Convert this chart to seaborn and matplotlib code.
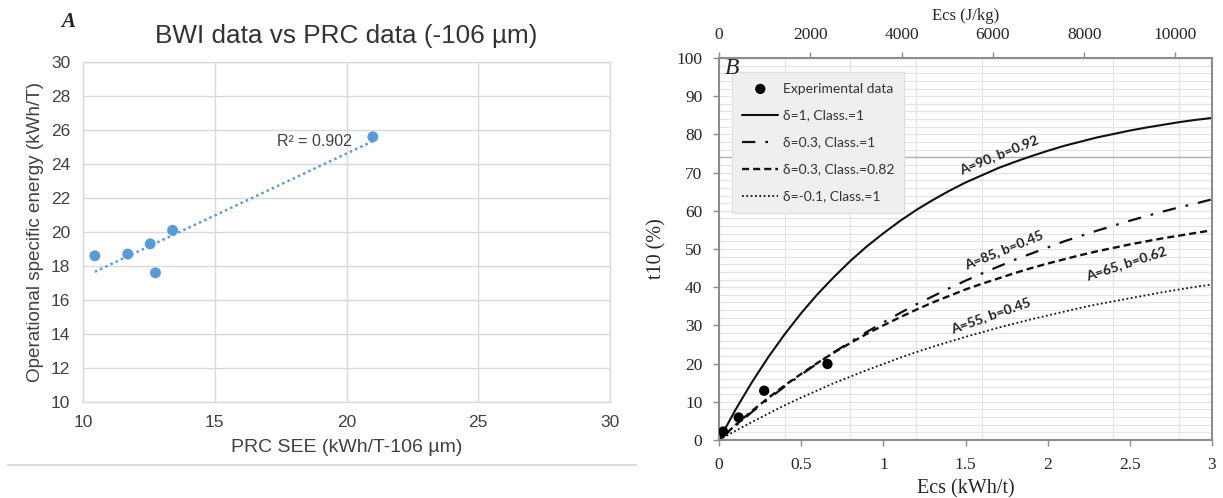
import seaborn as sns
import matplotlib.pyplot as plt
from matplotlib.lines import Line2D
from matplotlib.ticker import MultipleLocator, FuncFormatter

sns.set_style("white")
plt.rcParams['font.family'] = ['Liberation Sans', 'DejaVu Sans']

# Panel A: BWI vs PRC
prc_see = [10.45, 11.7, 12.55, 12.75, 13.4, 21.0]
op_energy = [18.6, 18.7, 19.3, 17.6, 20.1, 25.6]

# Panel B: t10 vs Ecs
exp_ecs = [0.025, 0.12, 0.275, 0.66]
exp_t10 = [2.2, 5.9, 12.9, 19.9]
ecs = [0, 0.1, 0.2, 0.3, 0.4, 0.5, 0.6, 0.7, 0.8, 0.9, 1.0,
       1.1, 1.2, 1.3, 1.4, 1.5, 1.6, 1.7, 1.8, 1.9, 2.0,
       2.1, 2.2, 2.3, 2.4, 2.5, 2.6, 2.7, 2.8, 2.9, 3.0]
t10_d1 = [0, 7.9, 15.1, 21.7, 27.7, 33.2, 38.2, 42.7, 46.9, 50.7, 54.1,
          57.3, 60.2, 62.8, 65.2, 67.4, 69.3, 71.2, 72.8, 74.3, 75.7,
          77.0, 78.1, 79.2, 80.1, 81.0, 81.8, 82.5, 83.2, 83.8, 84.3]
t10_d03 = [0, 3.7, 7.3, 10.7, 14.0, 17.1, 20.1, 23.0, 25.7, 28.3, 30.8,
           33.2, 35.5, 37.6, 39.7, 41.7, 43.6, 45.4, 47.2, 48.8, 50.4,
           52.0, 53.4, 54.8, 56.1, 57.4, 58.6, 59.8, 60.9, 61.9, 63.0]
t10_d03_c082 = [0, 3.9, 7.6, 11.0, 14.3, 17.3, 20.2, 22.9, 25.4, 27.8, 30.0,
                32.1, 34.1, 36.0, 37.7, 39.4, 40.9, 42.3, 43.7, 45.0, 46.2,
                47.3, 48.4, 49.4, 50.3, 51.2, 52.0, 52.8, 53.5, 54.2, 54.9]
t10_dm01 = [0, 2.4, 4.7, 6.9, 9.1, 11.1, 13.0, 14.9, 16.6, 18.3, 19.9,
            21.5, 23.0, 24.4, 25.7, 27.0, 28.2, 29.4, 30.5, 31.6, 32.6,
            33.6, 34.6, 35.5, 36.3, 37.1, 37.9, 38.7, 39.4, 40.1, 40.7]
curve_labels = ['δ=1, Class.=1', 'δ=0.3, Class.=1', 'δ=0.3, Class.=0.82', 'δ=-0.1, Class.=1']
curve_notes = ['A=90, b=0.92', 'A=85, b=0.45', 'A=65, b=0.62', 'A=55, b=0.45']

W, H = 1223, 498
fig = plt.figure(figsize=(W / 100, H / 100), dpi=100)

# ---------------- A ----------------
axA = fig.add_axes([83 / W, 1 - 402 / H, (610 - 83) / W, (402 - 62) / H])
grid_c = '#d9d9d9'
txt_c = '#404040'
sns.regplot(x=prc_see, y=op_energy, ax=axA, ci=None,
            scatter_kws=dict(s=62, color='#5b9bd5', edgecolor='none', alpha=1, zorder=3),
            line_kws=dict(color='#5b9bd5', lw=1.8, linestyle=(0, (1, 1.3))))
axA.set_xlim(10, 30)
axA.set_ylim(10, 30)
axA.set_xticks(range(10, 31, 5))
axA.set_yticks(range(10, 31, 2))
axA.grid(True, color=grid_c, lw=1)
for s in axA.spines.values():
    s.set_color(grid_c)
    s.set_linewidth(1)
axA.tick_params(length=0, labelsize=12.5, colors=txt_c, pad=9)
axA.set_xlabel('PRC SEE (kWh/T-106 µm)', fontsize=14, color=txt_c, labelpad=7)
axA.set_ylabel('Operational specific energy (kWh/T)', fontsize=13.6, color=txt_c, labelpad=5)
axA.set_title('BWI data vs PRC data (-106 µm)', fontsize=18.8, color='#333333', pad=14)
axA.text(18.8, 25.3, 'R² = 0.902', fontsize=11.5, color=txt_c, ha='center', va='center')
fig.text(68 / W, 1 - 22 / H, 'A', fontsize=15, style='italic', fontweight='bold',
         family='Liberation Serif', color='#222222', ha='center', va='center')
fig.add_artist(Line2D([8 / W, 636 / W], [1 - 465 / H] * 2, color=grid_c, lw=1.5))

# ---------------- B ----------------
axB = fig.add_axes([719 / W, 1 - 440 / H, (1212 - 719) / W, (440 - 58) / H])
serif = 'Liberation Serif'
axB.set_xlim(0, 3)
axB.set_ylim(0, 100)
axB.yaxis.set_major_locator(MultipleLocator(10))
axB.yaxis.set_minor_locator(MultipleLocator(2))
axB.xaxis.set_major_locator(MultipleLocator(0.5))
axB.xaxis.set_minor_locator(MultipleLocator(0.4))
axB.xaxis.set_major_formatter(FuncFormatter(lambda v, p: f'{v:g}'))
axB.grid(True, which='minor', color='#e4e4e4', lw=0.9)
axB.grid(True, which='major', axis='y', color='#e4e4e4', lw=0.9)
axB.axhline(74, color='#b0b0b0', lw=1, zorder=1)
for s in axB.spines.values():
    s.set_color('#8c8c8c')
    s.set_linewidth(1.5)

styles = ['-', (0, (6, 4.5, 1.2, 4.5)), (0, (3, 1.7)), (0, (1, 1.4))]
widths = [1.5, 1.6, 1.7, 1.3]
for y, lab, ls, lw in zip([t10_d1, t10_d03, t10_d03_c082, t10_dm01], curve_labels, styles, widths):
    sns.lineplot(x=ecs, y=y, ax=axB, color='#111111', linestyle=ls, lw=lw, label=lab)
sns.scatterplot(x=exp_ecs, y=exp_t10, ax=axB, color='black', s=55, edgecolor='none',
                label='Experimental data', zorder=5)

note_pos = [(1.705, 74.8, 22), (1.735, 49.7, 22), (2.48, 46.3, 18), (1.655, 32.7, 19.5)]
for (x, y, r), note in zip(note_pos, curve_notes):
    axB.text(x, y, note, rotation=r, rotation_mode='anchor', ha='center', va='center',
             fontsize=10, fontweight='bold', family='Lato', color='#222222')

handles, labels = axB.get_legend_handles_labels()
order = [4, 0, 1, 2, 3]
leg = axB.legend([handles[i] for i in order], [labels[i] for i in order],
                 loc='upper left', bbox_to_anchor=(0.026, 0.963), borderaxespad=0,
                 prop=dict(family='Lato', size=10), frameon=True, fancybox=False,
                 facecolor='#efefef', edgecolor='#e0e0e0', framealpha=1,
                 handlelength=2.6, handletextpad=0.3, labelspacing=1.08,
                 borderpad=0.75)
for t in leg.get_texts():
    t.set_color('#333333')

axB.tick_params(axis='both', which='major', direction='out', length=4, width=1,
                color='#8c8c8c', labelsize=12.5, pad=8, bottom=True, left=True)
axB.tick_params(which='minor', length=0)
for lab in axB.get_xticklabels() + axB.get_yticklabels():
    lab.set_family(serif)
axB.set_xlabel('Ecs (kWh/t)', family=serif, fontsize=14.5, labelpad=5)
axB.set_ylabel('t10 (%)', family=serif, fontsize=14.5, labelpad=7)

secax = axB.secondary_xaxis('top', functions=(lambda v: v * 3600, lambda v: v / 3600))
secax.set_xticks(range(0, 10001, 2000))
secax.tick_params(direction='out', length=4, width=1, color='#8c8c8c', labelsize=12.5, pad=7)
for lab in secax.get_xticklabels():
    lab.set_family(serif)
secax.set_xlabel('Ecs (J/kg)', family=serif, fontsize=12, labelpad=5)
secax.spines['top'].set_color('#8c8c8c')

fig.text(732 / W, 1 - 68 / H, 'B', fontsize=17, style='italic', family=serif,
         color='#222222', ha='center', va='center')

fig.savefig('out.png', dpi=100)
